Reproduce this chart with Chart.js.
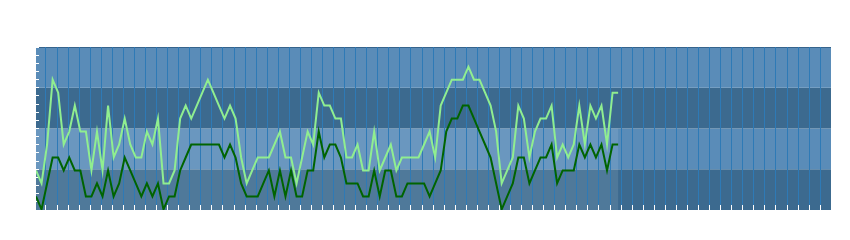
<!DOCTYPE html>
<html>
<head>
<meta charset="utf-8">
<title>Chart</title>
<script src="https://cdn.jsdelivr.net/npm/chart.js@4.4.0/dist/chart.umd.min.js"></script>
<style>
  body { margin: 0; background: #ffffff; }
  canvas { display: block; }
</style>
</head>
<body>
<canvas id="chart" width="850" height="240"></canvas>
<script>
// Series, one value per sample
const upper = [
  3, 2, 5, 10, 9, 5, 6, 8, 6, 6, 3, 6, 3, 8, 4, 5, 7, 5, 4, 4,
  6, 5, 7, 2, 2, 3, 7, 8, 7, 8, 9, 10, 9, 8, 7, 8, 7, 4, 2, 3,
  4, 4, 4, 5, 6, 4, 4, 2, 4, 6, 5, 9, 8, 8, 7, 7, 4, 4, 5, 3,
  3, 6, 3, 4, 5, 3, 4, 4, 4, 4, 5, 6, 4, 8, 9, 10, 10, 10, 11, 10,
  10, 9, 8, 6, 2, 3, 4, 8, 7, 4, 6, 7, 7, 8, 4, 5, 4, 5, 8, 5,
  8, 7, 8, 5, 9, 9
];
const lower = [
  1, 0, 2, 4, 4, 3, 4, 3, 3, 1, 1, 2, 1, 3, 1, 2, 4, 3, 2, 1,
  2, 1, 2, 0, 1, 1, 3, 4, 5, 5, 5, 5, 5, 5, 4, 5, 4, 2, 1, 1,
  1, 2, 3, 1, 3, 1, 3, 1, 1, 3, 3, 6, 4, 5, 5, 4, 2, 2, 2, 1,
  1, 3, 1, 3, 3, 1, 1, 2, 2, 2, 2, 1, 2, 3, 6, 7, 7, 8, 8, 7,
  6, 5, 4, 2, 0, 1, 2, 4, 4, 2, 3, 4, 4, 5, 2, 3, 3, 3, 5, 4,
  5, 4, 5, 3, 5, 5
];
// sample numbers along the x axis
const samples = upper.map((v, i) => i);

// Axis ranges
const xMax = 143.4;
const yMin = -0.05;
const yMax = 12.52;
const bandCount = 4;
const yTickCount = 20;
const gridStart = 1.8;
const gridStep = 1.995;
const gridCount = 71;

// Striped background, lighter wash under the lower half where data exists
const backdrop = {
  id: 'backdrop',
  beforeDraw(chart) {
    const { ctx, chartArea: area, scales: { x, y } } = chart;
    const step = (yMax - yMin) / bandCount;
    ctx.save();
    for (let i = 0; i < bandCount; i++) {
      const bottom = y.getPixelForValue(yMin + i * step);
      const top = y.getPixelForValue(yMin + (i + 1) * step);
      ctx.fillStyle = i % 2 === 0 ? '#3c6a8f' : '#5a8cb8';
      ctx.fillRect(area.left, top, area.right - area.left, bottom - top);
    }
    const end = x.getPixelForValue(samples[samples.length - 1]);
    const mid = y.getPixelForValue(yMin + 2 * step);
    ctx.fillStyle = 'rgba(255, 255, 255, 0.1)';
    ctx.fillRect(area.left, mid, end - area.left, area.bottom - mid);
    ctx.fillStyle = '#36648c';
    ctx.fillRect(area.left, area.top, area.right - area.left, 1);
    ctx.restore();
  }
};

new Chart(document.getElementById('chart'), {
  type: 'line',
  data: {
    labels: samples,
    datasets: [
      {
        label: 'upper',
        data: upper,
        borderColor: '#90ee90',
        borderWidth: 2,
        pointRadius: 0,
        tension: 0,
        fill: false
      },
      {
        label: 'lower',
        data: lower,
        borderColor: '#006400',
        borderWidth: 2,
        pointRadius: 0,
        tension: 0,
        fill: false
      }
    ]
  },
  options: {
    responsive: false,
    animation: false,
    layout: { padding: { left: 36, top: 47, right: 19, bottom: 30 } },
    plugins: {
      legend: { display: false },
      tooltip: { enabled: false }
    },
    scales: {
      x: {
        type: 'linear',
        min: 0,
        max: xMax,
        ticks: { display: false },
        grid: { color: '#2e7ab6', tickColor: '#ffffff', tickLength: -5 },
        border: { display: false },
        afterBuildTicks(scale) {
          scale.ticks = [];
          for (let k = 0; k < gridCount; k++) scale.ticks.push({ value: gridStart + k * gridStep });
        },
        afterFit(scale) { scale.height = 0; }
      },
      y: {
        min: yMin,
        max: yMax,
        ticks: { display: false },
        grid: { drawOnChartArea: false, tickColor: '#ffffff', tickLength: -3 },
        border: { display: false },
        afterBuildTicks(scale) {
          scale.ticks = [];
          for (let k = 0; k <= yTickCount; k++) scale.ticks.push({ value: yMin + k * (yMax - yMin) / yTickCount });
        },
        afterFit(scale) { scale.width = 0; }
      }
    }
  },
  plugins: [backdrop]
});
</script>
</body>
</html>
